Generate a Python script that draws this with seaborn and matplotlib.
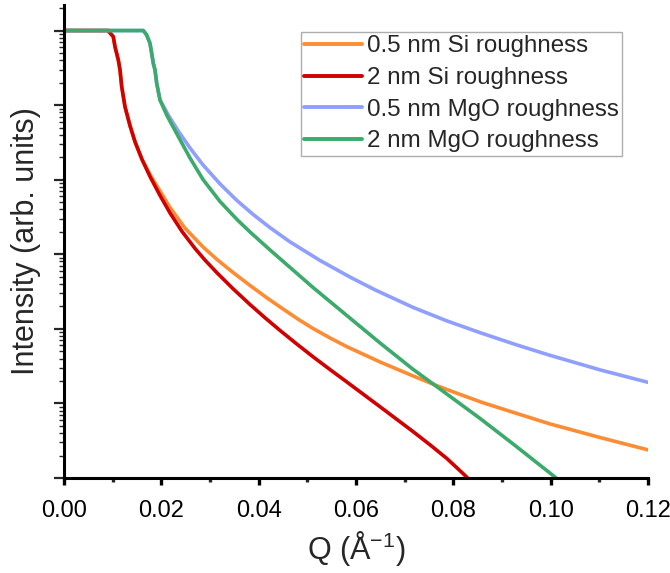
import numpy as np
import pandas as pd
import matplotlib
matplotlib.use("Agg")
import matplotlib.pyplot as plt
import matplotlib.ticker as mticker
import seaborn as sns

# Scattering vector Q (1/Angstrom) and log10 of reflected intensity for each model
q_si_05 = [0.0, 0.00904, 0.01013, 0.01048, 0.01116, 0.01151, 0.01186, 0.01253, 0.01356,
           0.01459, 0.01603, 0.01767, 0.02178, 0.02486, 0.02856, 0.03144, 0.03473,
           0.03822, 0.04130, 0.04438, 0.04788, 0.05116, 0.05466, 0.05815, 0.06493,
           0.07171, 0.07664, 0.08137, 0.08610, 0.09267, 0.09986, 0.11014, 0.12]
logi_si_05 = [0.0, 0.0, -0.083, -0.217, -0.395, -0.529, -0.753, -1.021, -1.276,
              -1.491, -1.729, -1.930, -2.373, -2.650, -2.902, -3.070, -3.244,
              -3.418, -3.566, -3.706, -3.861, -3.995, -4.122, -4.240, -4.444,
              -4.631, -4.763, -4.879, -4.991, -5.127, -5.275, -5.457, -5.623]

q_si_2 = [0.0, 0.00904, 0.01013, 0.01048, 0.01116, 0.01151, 0.01186, 0.01253, 0.01356,
          0.01459, 0.01603, 0.01767, 0.01973, 0.02178, 0.02425, 0.02692, 0.02897,
          0.03144, 0.03473, 0.03822, 0.04130, 0.04438, 0.04788, 0.05116, 0.05466,
          0.05815, 0.06493, 0.07171, 0.07521, 0.07870, 0.08199, 0.08342, 0.08445]
logi_si_2 = [0.0, 0.0, -0.083, -0.217, -0.395, -0.529, -0.753, -1.021, -1.276,
             -1.491, -1.729, -1.957, -2.212, -2.446, -2.694, -2.922, -3.078,
             -3.249, -3.462, -3.674, -3.851, -4.021, -4.206, -4.374, -4.546,
             -4.714, -5.044, -5.377, -5.555, -5.740, -5.940, -6.030, -6.090]

q_mgo_05 = [0.0, 0.01629, 0.01699, 0.01767, 0.01802, 0.01835, 0.01870, 0.01905, 0.01973,
            0.02158, 0.02342, 0.02589, 0.02856, 0.03205, 0.03555, 0.03884, 0.04233,
            0.04644, 0.05260, 0.05877, 0.06390, 0.07171, 0.07849, 0.08548, 0.09267,
            0.09986, 0.11014, 0.12]
logi_mgo_05 = [0.0, 0.0, -0.060, -0.172, -0.306, -0.440, -0.529, -0.708, -0.932,
               -1.149, -1.342, -1.575, -1.802, -2.056, -2.280, -2.465, -2.643,
               -2.834, -3.083, -3.306, -3.477, -3.712, -3.889, -4.051, -4.208,
               -4.355, -4.550, -4.717]

q_mgo_2 = [0.0, 0.01629, 0.01699, 0.01767, 0.01802, 0.01835, 0.01870, 0.01905, 0.01973,
           0.02110, 0.02281, 0.02589, 0.02856, 0.03205, 0.03555, 0.03822, 0.04233,
           0.05116, 0.05815, 0.06493, 0.07171, 0.07664, 0.08548, 0.09267, 0.09986,
           0.10192]
logi_mgo_2 = [0.0, 0.0, -0.060, -0.172, -0.306, -0.440, -0.529, -0.708, -0.932,
              -1.133, -1.340, -1.709, -1.997, -2.292, -2.534, -2.701, -2.942,
              -3.445, -3.823, -4.189, -4.542, -4.777, -5.201, -5.563, -5.934,
              -6.042]

labels = ["0.5 nm Si roughness", "2 nm Si roughness",
          "0.5 nm MgO roughness", "2 nm MgO roughness"]
colors = ["#FF8C33", "#D00000", "#8F9FFF", "#3BAA6A"]

series = [(q_si_05, logi_si_05), (q_si_2, logi_si_2),
          (q_mgo_05, logi_mgo_05), (q_mgo_2, logi_mgo_2)]
frames = []
for name, (q, li) in zip(labels, series):
    frames.append(pd.DataFrame({"Q": q, "I": 10.0 ** np.asarray(li), "model": name}))
df = pd.concat(frames, ignore_index=True)

sns.set_style("ticks")
plt.rcParams["font.family"] = ["Liberation Sans", "DejaVu Sans"]
plt.rcParams["mathtext.fontset"] = "custom"
plt.rcParams["mathtext.rm"] = "Liberation Sans"
plt.rcParams["mathtext.it"] = "Liberation Sans:italic"

fig = plt.figure(figsize=(6.70, 5.73), dpi=100)
ax = fig.add_axes([64 / 670, 1 - 478 / 573, 584 / 670, 473 / 573])

sns.lineplot(data=df, x="Q", y="I", hue="model", hue_order=labels,
             palette=dict(zip(labels, colors)), sort=False, estimator=None,
             linewidth=2.6, ax=ax)

ax.set_yscale("log")
ax.set_xlim(0, 0.12)
ax.set_ylim(1e-6, 2.2)

ax.xaxis.set_major_locator(mticker.MultipleLocator(0.02))
ax.xaxis.set_minor_locator(mticker.MultipleLocator(0.01))
ax.xaxis.set_major_formatter(mticker.FormatStrFormatter("%.2f"))
ax.yaxis.set_major_locator(mticker.LogLocator(base=10, numticks=20))
ax.yaxis.set_minor_locator(mticker.LogLocator(base=10, subs=np.arange(2, 10), numticks=40))
ax.yaxis.set_major_formatter(mticker.NullFormatter())
ax.yaxis.set_minor_formatter(mticker.NullFormatter())

for side in ("top", "right"):
    ax.spines[side].set_visible(False)
for side in ("left", "bottom"):
    ax.spines[side].set_linewidth(2.2)
    ax.spines[side].set_color("black")

ax.tick_params(axis="x", which="major", length=5, width=2.4, labelsize=17, pad=11, colors="black")
ax.tick_params(axis="x", which="minor", length=3, width=2.4)
ax.tick_params(axis="y", which="major", length=7, width=1.6)
ax.tick_params(axis="y", which="minor", length=3.5, width=1.0)

ax.set_xlabel("Q (Å$^{\\mathregular{-1}}$)", fontsize=22, labelpad=5)
ax.set_ylabel("Intensity (arb. units)", fontsize=22, labelpad=6)

leg = ax.legend(loc="upper left", bbox_to_anchor=(0.405, 0.9436), borderaxespad=0,
                fontsize=17.4, frameon=True, fancybox=False, edgecolor="#999999",
                handlelength=2.4, handletextpad=0.2, labelspacing=0.4,
                borderpad=0.15, title=None)
leg.get_frame().set_linewidth(1.0)
for line in leg.get_lines():
    line.set_linewidth(2.8)

fig.savefig("out.png", dpi=100)
